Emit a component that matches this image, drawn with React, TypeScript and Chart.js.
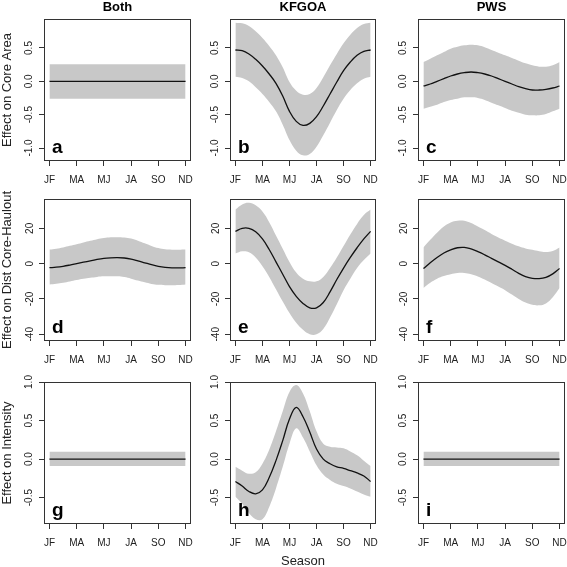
import React, { useEffect, useRef } from "react";
import { Chart, registerables } from "chart.js";

Chart.register(...registerables);

const FONT = '"Liberation Sans", Arial, Helvetica, sans-serif';
Chart.defaults.font.family = FONT;

// ---------- data ----------
const SEASON_X = [1, 1.25, 1.5, 1.75, 2, 2.25, 2.5, 2.75, 3, 3.25, 3.5, 3.75, 4, 4.25, 4.5, 4.75, 5, 5.25, 5.5, 5.75, 6];
const FLAT_X = [1, 6];
const SEASON_TICKS = [1, 2, 3, 4, 5, 6];
const SEASON_LABELS = ["JF", "MA", "MJ", "JA", "SO", "ND"];
const COLUMN_TITLES = ["Both", "KFGOA", "PWS"];
const ROW_TITLES = ["Effect on Core Area", "Effect on Dist Core-Haulout", "Effect on Intensity"];
const X_TITLE = "Season";
const ROW_TICKS = [
  [-1, -0.5, 0, 0.5],
  [-40, -20, 0, 20],
  [-0.5, 0, 0.5, 1],
];
const ROW_TICK_LABELS = [
  ["-1.0", "-0.5", "0.0", "0.5"],
  ["-40", "-20", "0", "20"],
  ["-0.5", "0.0", "0.5", "1.0"],
];
const ROW_LIMITS = [
  [-1.195, 0.935],
  [-43.8, 36.6],
  [-0.842, 1.0],
];

// a: Both / core area
const A_FIT = [0, 0];
const A_UPPER = [0.255, 0.255];
const A_LOWER = [-0.26, -0.26];

// b: KFGOA / core area
const B_FIT = [0.47, 0.46, 0.41, 0.33, 0.23, 0.11, -0.03, -0.22, -0.45, -0.6, -0.66, -0.63, -0.53, -0.37, -0.19, -0.01, 0.16, 0.29, 0.39, 0.45, 0.47];
const B_UPPER = [0.88, 0.87, 0.83, 0.75, 0.65, 0.53, 0.39, 0.21, -0.01, -0.14, -0.2, -0.19, -0.1, 0.06, 0.24, 0.41, 0.57, 0.7, 0.8, 0.86, 0.88];
const B_LOWER = [0.07, 0.05, 0.0, -0.09, -0.19, -0.31, -0.45, -0.65, -0.88, -1.04, -1.11, -1.09, -0.98, -0.81, -0.62, -0.43, -0.26, -0.13, -0.03, 0.04, 0.07];

// c: PWS / core area
const C_FIT = [-0.07, -0.04, 0.0, 0.04, 0.08, 0.11, 0.13, 0.14, 0.13, 0.11, 0.08, 0.04, 0.0, -0.04, -0.08, -0.11, -0.13, -0.13, -0.12, -0.1, -0.07];
const C_UPPER = [0.29, 0.34, 0.39, 0.44, 0.49, 0.52, 0.54, 0.55, 0.54, 0.51, 0.47, 0.43, 0.39, 0.35, 0.31, 0.27, 0.24, 0.22, 0.22, 0.24, 0.29];
const C_LOWER = [-0.41, -0.38, -0.35, -0.31, -0.28, -0.26, -0.24, -0.24, -0.25, -0.28, -0.32, -0.36, -0.4, -0.44, -0.47, -0.5, -0.51, -0.51, -0.49, -0.45, -0.41];

// d: Both / distance
const D_FIT = [-2.3, -2.0, -1.5, -0.8, 0.0, 0.8, 1.6, 2.4, 3.0, 3.3, 3.4, 3.2, 2.6, 1.6, 0.5, -0.6, -1.5, -2.1, -2.4, -2.4, -2.3];
const D_UPPER = [8.0, 8.5, 9.2, 10.1, 11.0, 12.0, 12.9, 13.8, 14.5, 14.9, 15.0, 14.8, 14.2, 13.0, 11.5, 10.0, 8.8, 8.1, 7.9, 7.9, 8.0];
const D_LOWER = [-11.8, -11.4, -10.8, -10.1, -9.3, -8.6, -8.0, -7.5, -7.2, -7.1, -7.2, -7.6, -8.5, -9.6, -10.6, -11.5, -12.0, -12.2, -12.2, -12.1, -11.8];

// e: KFGOA / distance
const E_FIT = [18.3, 20.0, 20.0, 18.0, 14.0, 8.0, 1.0, -6.0, -13.0, -18.5, -22.5, -25.0, -25.0, -22.0, -16.0, -9.0, -2.5, 3.5, 9.0, 14.0, 18.3];
const E_UPPER = [30.6, 33.5, 34.5, 33.0, 29.5, 23.5, 16.0, 8.5, 1.0, -5.0, -8.5, -10.0, -10.0, -7.5, -2.5, 3.5, 10.0, 16.5, 22.5, 27.5, 30.6];
const E_LOWER = [5.7, 7.0, 6.5, 3.5, -1.5, -7.5, -14.5, -21.5, -28.0, -33.5, -37.5, -40.0, -40.0, -37.0, -30.5, -23.0, -15.0, -8.5, -2.5, 2.0, 5.7];

// f: PWS / distance
const F_FIT = [-2.8, 0.5, 3.5, 6.0, 7.8, 9.0, 9.2, 8.3, 6.8, 5.0, 3.0, 1.0, -1.0, -3.2, -5.5, -7.3, -8.3, -8.5, -7.8, -5.8, -2.8];
const F_UPPER = [9.2, 13.5, 17.5, 21.0, 23.3, 24.3, 24.3, 23.0, 21.0, 19.0, 16.8, 14.8, 13.0, 11.3, 9.8, 8.6, 7.8, 7.0, 6.6, 7.2, 9.2];
const F_LOWER = [-13.8, -10.8, -8.5, -7.0, -6.0, -5.3, -5.3, -6.0, -7.3, -9.0, -11.0, -13.0, -15.0, -17.5, -20.0, -22.0, -23.3, -23.6, -22.5, -19.0, -13.8];

// g: Both / intensity
const G_FIT = [0, 0];
const G_UPPER = [0.095, 0.095];
const G_LOWER = [-0.09, -0.09];

// h: KFGOA / intensity
const H_FIT = [-0.29, -0.35, -0.42, -0.45, -0.4, -0.24, -0.02, 0.24, 0.52, 0.67, 0.55, 0.35, 0.13, 0.0, -0.06, -0.1, -0.12, -0.15, -0.18, -0.22, -0.29];
const H_UPPER = [-0.1, -0.15, -0.19, -0.17, -0.06, 0.12, 0.36, 0.62, 0.87, 0.96, 0.85, 0.62, 0.36, 0.2, 0.16, 0.15, 0.14, 0.1, 0.05, -0.02, -0.09];
const H_LOWER = [-0.49, -0.58, -0.7, -0.78, -0.78, -0.62, -0.38, -0.1, 0.2, 0.4, 0.28, 0.1, -0.08, -0.2, -0.27, -0.32, -0.35, -0.38, -0.42, -0.46, -0.49];

// i: PWS / intensity
const I_FIT = [0, 0];
const I_UPPER = [0.095, 0.095];
const I_LOWER = [-0.09, -0.09];

const PANELS = [
  { row: 0, col: 0, letter: "a", x: FLAT_X, fit: A_FIT, upper: A_UPPER, lower: A_LOWER },
  { row: 0, col: 1, letter: "b", x: SEASON_X, fit: B_FIT, upper: B_UPPER, lower: B_LOWER },
  { row: 0, col: 2, letter: "c", x: SEASON_X, fit: C_FIT, upper: C_UPPER, lower: C_LOWER },
  { row: 1, col: 0, letter: "d", x: SEASON_X, fit: D_FIT, upper: D_UPPER, lower: D_LOWER },
  { row: 1, col: 1, letter: "e", x: SEASON_X, fit: E_FIT, upper: E_UPPER, lower: E_LOWER },
  { row: 1, col: 2, letter: "f", x: SEASON_X, fit: F_FIT, upper: F_UPPER, lower: F_LOWER },
  { row: 2, col: 0, letter: "g", x: FLAT_X, fit: G_FIT, upper: G_UPPER, lower: G_LOWER },
  { row: 2, col: 1, letter: "h", x: SEASON_X, fit: H_FIT, upper: H_UPPER, lower: H_LOWER },
  { row: 2, col: 2, letter: "i", x: FLAT_X, fit: I_FIT, upper: I_UPPER, lower: I_LOWER },
];

// ---------- layout ----------
const COL_BOX = [
  { left: 44, width: 147 },
  { left: 230, width: 146 },
  { left: 418, width: 147 },
];
const ROW_BOX = [
  { top: 19, height: 142 },
  { top: 199, height: 142 },
  { top: 382, height: 142 },
];
const LEFT_SPACE = [44, 40, 40];
const TOP_SPACE = [19, 18, 18];
const BOTTOM_SPACE = [26, 26, 45];
const RIGHT_SPACE = 2;

const BAND_COLOR = "#c8c8c8";
const AXIS_COLOR = "#333333";

const boxPlugin = {
  id: "plotBox",
  afterDatasetsDraw(chart: any) {
    const { ctx, chartArea } = chart;
    ctx.save();
    ctx.strokeStyle = AXIS_COLOR;
    ctx.lineWidth = 1;
    ctx.strokeRect(chartArea.left + 0.5, chartArea.top + 0.5, chartArea.right - chartArea.left - 1, chartArea.bottom - chartArea.top - 1);
    ctx.restore();
  },
};

const letterPlugin = {
  id: "panelLetter",
  afterDatasetsDraw(chart: any, _args: any, opts: any) {
    const { ctx, chartArea } = chart;
    ctx.save();
    ctx.font = `bold 19px ${FONT}`;
    ctx.fillStyle = "#000";
    ctx.textAlign = "left";
    ctx.textBaseline = "alphabetic";
    ctx.fillText(opts.text, chartArea.left + 8, chartArea.bottom - 8);
    ctx.restore();
  },
};

function Panel({ spec }: { spec: any }) {
  const ref = useRef<HTMLCanvasElement>(null);
  const { row, col } = spec;
  const cb = COL_BOX[col];
  const rb = ROW_BOX[row];
  const w = LEFT_SPACE[col] + cb.width + RIGHT_SPACE;
  const h = TOP_SPACE[row] + rb.height + BOTTOM_SPACE[row];
  const left = cb.left - LEFT_SPACE[col];
  const top = rb.top - TOP_SPACE[row];

  useEffect(() => {
    if (!ref.current) return;
    const pts = (ys: number[]) => spec.x.map((xv: number, i: number) => ({ x: xv, y: ys[i] }));
    const chart = new Chart(ref.current, {
      type: "line",
      data: {
        datasets: [
          {
            data: pts(spec.fit),
            borderColor: "#111",
            borderWidth: 1.3,
            pointRadius: 0,
            fill: false,
            tension: 0.4,
          },
          {
            data: pts(spec.upper),
            borderWidth: 0,
            borderColor: "rgba(0,0,0,0)",
            backgroundColor: BAND_COLOR,
            pointRadius: 0,
            fill: "+1",
            tension: 0.4,
          },
          {
            data: pts(spec.lower),
            borderWidth: 0,
            borderColor: "rgba(0,0,0,0)",
            pointRadius: 0,
            fill: false,
            tension: 0.4,
          },
        ],
      },
      options: {
        responsive: false,
        animation: false,
        events: [],
        layout: {
          autoPadding: false,
          padding: { left: 0, right: RIGHT_SPACE, top: row === 0 ? 0 : TOP_SPACE[row], bottom: 0 },
        },
        plugins: {
          legend: { display: false },
          tooltip: { enabled: false },
          title: {
            display: row === 0,
            text: COLUMN_TITLES[col],
            fullSize: false,
            color: "#000",
            font: { size: 13, weight: "bold", lineHeight: 1.2 },
            padding: { top: 0, bottom: 3.4 },
          },
          panelLetter: { text: spec.letter },
        } as any,
        scales: {
          x: {
            type: "linear",
            min: 0.8,
            max: 6.2,
            bounds: "data",
            afterBuildTicks: (s: any) => {
              s.ticks = SEASON_TICKS.map((v) => ({ value: v }));
            },
            afterFit: (s: any) => {
              s.height = BOTTOM_SPACE[row];
              s.paddingLeft = 0;
              s.paddingRight = 0;
            },
            ticks: {
              autoSkip: false,
              maxRotation: 0,
              padding: 8,
              color: "#222",
              font: { size: 10 },
              callback: (_v: any, i: number) => SEASON_LABELS[i],
            },
            grid: { drawOnChartArea: false, drawTicks: true, tickLength: 5, color: AXIS_COLOR, tickColor: AXIS_COLOR },
            border: { display: false },
            title: {
              display: row === 2 && col === 1,
              text: X_TITLE,
              color: "#222",
              font: { size: 13, lineHeight: 1.2 },
              padding: { top: 0, bottom: 0 },
            },
          },
          y: {
            type: "linear",
            min: ROW_LIMITS[row][0],
            max: ROW_LIMITS[row][1],
            bounds: "data",
            afterBuildTicks: (s: any) => {
              s.ticks = ROW_TICKS[row].map((v) => ({ value: v }));
            },
            afterFit: (s: any) => {
              s.width = LEFT_SPACE[col];
              s.paddingTop = 0;
              s.paddingBottom = 0;
            },
            ticks: {
              minRotation: 90,
              maxRotation: 90,
              crossAlign: "center",
              padding: 1.5,
              color: "#222",
              font: { size: 10 },
              callback: (_v: any, i: number) => ROW_TICK_LABELS[row][i],
            },
            grid: { drawOnChartArea: false, drawTicks: true, tickLength: 5, color: AXIS_COLOR, tickColor: AXIS_COLOR },
            border: { display: false },
            title: {
              display: col === 0,
              text: ROW_TITLES[row],
              color: "#222",
              font: { size: 13, lineHeight: 1.2 },
              padding: { top: 0, bottom: 0 },
            },
          },
        },
      },
      plugins: [boxPlugin, letterPlugin],
    } as any);
    return () => chart.destroy();
  }, []);

  return (
    <canvas
      ref={ref}
      width={w}
      height={h}
      style={{ position: "absolute", left, top, width: w, height: h }}
    />
  );
}

export default function App() {
  return (
    <div
      style={{
        position: "fixed",
        left: 0,
        top: 0,
        width: 567,
        height: 567,
        background: "#ffffff",
        overflow: "hidden",
      }}
    >
      {PANELS.map((p) => (
        <Panel key={p.letter} spec={p} />
      ))}
    </div>
  );
}
